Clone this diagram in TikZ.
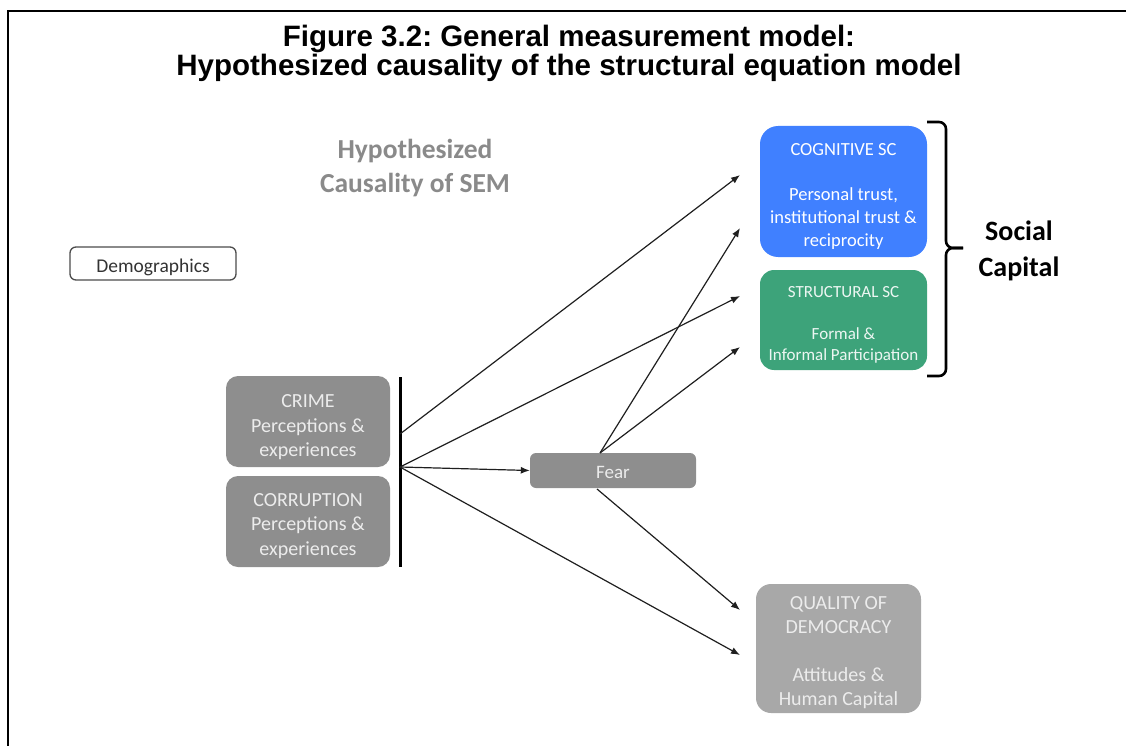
\documentclass[tikz,border=0pt]{standalone}
\usepackage{fontspec}
\setmainfont{Carlito}
\newfontfamily\titlefont{Liberation Sans}
\usetikzlibrary{arrows.meta}
\frenchspacing

\definecolor{boxgrey}{HTML}{8E8E8E}
\definecolor{lightboxgrey}{HTML}{A8A8A8}
\definecolor{cogblue}{HTML}{4080FF}
\definecolor{strgreen}{HTML}{3DA37A}
\definecolor{boxtext}{HTML}{ECECEC}
\definecolor{headgrey}{HTML}{8A8A8A}

% invisible strut that gives the first text line extra height, lowering the block
\newcommand{\lowerby}[1]{\rule{0pt}{#1}}

\tikzset{
  titletext/.style={font=\titlefont\bfseries\fontsize{29.5}{29}\selectfont, align=center, inner sep=0},
  greybox/.style={fill=boxgrey, draw=none, rounded corners=12, text=boxtext, align=center,
    minimum width=164, minimum height=91, inner sep=0, font=\fontsize{20}{24.5}\selectfont},
  fearbox/.style={fill=boxgrey, draw=none, rounded corners=6, text=boxtext, align=center,
    minimum width=166, minimum height=35, inner sep=0, font=\fontsize{19}{22}\selectfont},
  cogbox/.style={fill=cogblue, draw=none, rounded corners=18, text=white, align=center,
    minimum width=167, minimum height=131, inner sep=0, font=\fontsize{18.5}{23}\selectfont},
  strbox/.style={fill=strgreen, draw=none, rounded corners=14, text=white!90!strgreen, align=center,
    minimum width=167, minimum height=100, inner sep=0, font=\fontsize{17}{21}\selectfont},
  qualbox/.style={fill=lightboxgrey, draw=none, rounded corners=15, text=boxtext, align=center,
    minimum width=165, minimum height=129, inner sep=0, font=\fontsize{20}{24}\selectfont},
  demobox/.style={fill=white, draw=black!70, line width=1.3, rounded corners=6, text=black!80,
    minimum width=166, minimum height=33, inner sep=0, font=\fontsize{19.5}{22}\selectfont},
  arr/.style={-{Latex[length=9,width=7]}, line width=1.2, draw=black!88},
}

\begin{document}
\begin{tikzpicture}[x=1pt, y=-1pt]
  \useasboundingbox (0,0) rectangle (1126,746);
  % page frame (top and left edges)
  \draw[line width=1.5] (8,746) -- (8,11) -- (1126,11);

  % heading
  \node[titletext] (title) at (569,53)
    {Figure 3.2: General measurement model:\\Hypothesized causality of the structural equation model};

  \node[text=headgrey, font=\bfseries\fontsize{27.5}{34}\selectfont, align=center, inner sep=0]
    (sem) at (415,168.5) {Hypothesized\\Causality of SEM};

  % boxes
  \node[demobox] (demo) at (153,263.5) {\lowerby{21.5pt}Demographics};

  \node[greybox] (crime) at (308,421.5) {\lowerby{25pt}CRIME\\Perceptions \&\\experiences};
  \node[greybox] (corr) at (308,521.5) {\lowerby{22pt}CORRUPTION\\Perceptions \&\\experiences};

  \node[fearbox] (fear) at (613,470.5) {\lowerby{16pt}Fear};

  \node[cogbox] (cog) at (843.5,191.5)
    {\lowerby{22pt}COGNITIVE SC\\[22pt]Personal trust,\\institutional trust \&\\reciprocity};
  \node[strbox] (str) at (843.5,320)
    {\lowerby{21pt}STRUCTURAL SC\\[21pt]Formal \&\\Informal Participation};
  \node[qualbox] (qual) at (838.5,648.5)
    {\lowerby{22pt}QUALITY OF\\DEMOCRACY\\[24pt]Attitudes \&\\Human Capital};

  \node[font=\bfseries\fontsize{28}{36}\selectfont, align=center, inner sep=0]
    (soc) at (1019,251) {Social\\Capital};

  % vertical bar joining the two predictor boxes
  \coordinate (barTop) at (400,377);
  \coordinate (barBot) at (400,567);
  \draw[line width=3] (barTop) -- (barBot);

  % bracket around the social capital boxes
  \draw[line width=2.6, rounded corners=7]
    (927,122) -- (946,122) -- (946,248) -- (963,248);
  \draw[line width=2.6, rounded corners=7]
    (927,376) -- (946,376) -- (946,248) -- (963,248);

  % connector end points
  \coordinate (b1) at (400,434);
  \coordinate (b2) at (400,467);
  \coordinate (fearT) at (600,453);
  \coordinate (fearB) at (597,489);
  \coordinate (cogA) at (740,175);
  \coordinate (cogB) at (740,228);
  \coordinate (strA) at (740,296);
  \coordinate (strB) at (740,347);
  \coordinate (qualA) at (740,610);
  \coordinate (qualB) at (740,655);

  % hypothesized paths
  \draw[arr] (b1) -- (cogA);
  \draw[arr] (b2) -- (strA);
  \draw[arr] (b2) -- (fear.west);
  \draw[arr] (b2) -- (qualB);
  \draw[arr] (fearT) -- (cogB);
  \draw[arr] (fearT) -- (strB);
  \draw[arr] (fearB) -- (qualA);
\end{tikzpicture}
\end{document}
